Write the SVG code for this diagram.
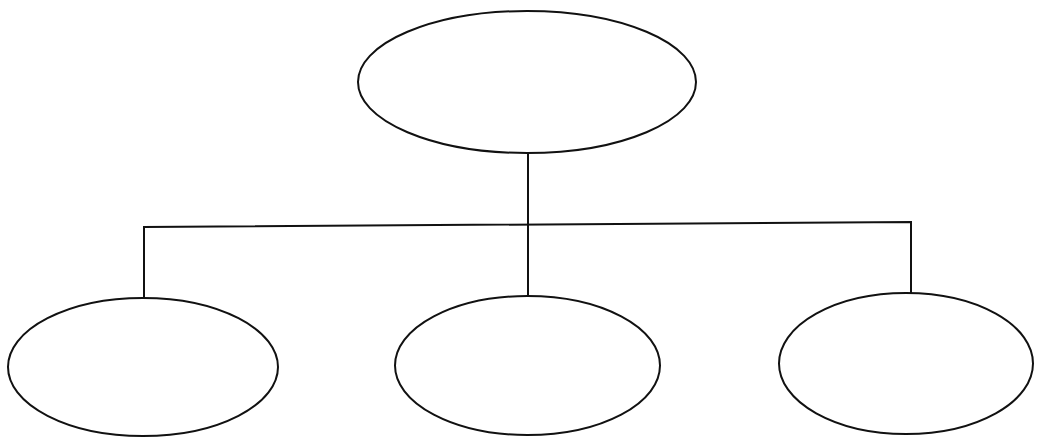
<svg xmlns="http://www.w3.org/2000/svg" width="1037" height="438" viewBox="0 0 1037 438">
<style>
.n{fill:#fff;stroke:#111;stroke-width:2}
.c{fill:none;stroke:#111;stroke-width:2}
</style>
<rect width="1037" height="438" fill="#fff"/>
<g id="connectors">
<line class="c" x1="528" y1="153" x2="528" y2="296"/>
<polyline class="c" points="144,298 144,227 911,222 911,293"/>
</g>
<g id="top"><ellipse class="n" cx="527" cy="82" rx="169" ry="71"/></g>
<g id="left"><ellipse class="n" cx="143" cy="367" rx="135" ry="69"/></g>
<g id="middle"><ellipse class="n" cx="527.5" cy="365.5" rx="132.5" ry="69.5"/></g>
<g id="right"><ellipse class="n" cx="906" cy="363.5" rx="127" ry="70.5"/></g>
</svg>
